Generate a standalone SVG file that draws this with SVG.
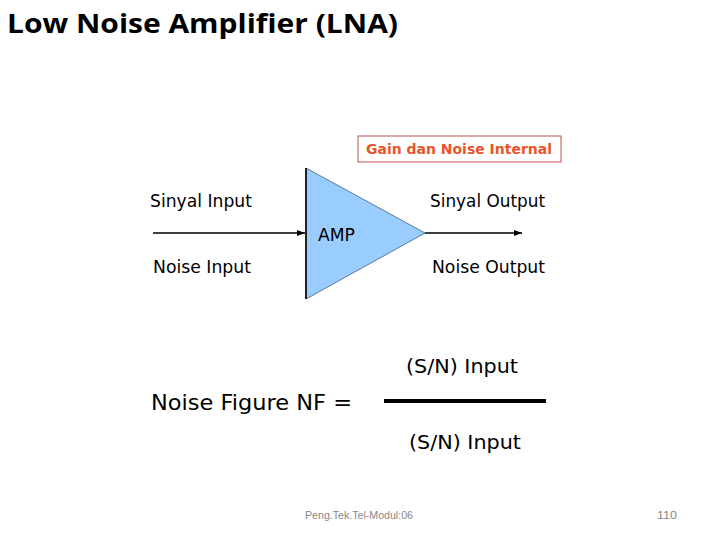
<svg xmlns="http://www.w3.org/2000/svg" width="720" height="540" viewBox="0 0 720 540">
<defs>
<style>
.t{font-family:"DejaVu Sans","Liberation Sans",sans-serif;fill:#000}
.f{font-family:"Liberation Sans",sans-serif;fill:#888;font-size:11px}
</style>
<marker id="ah" markerWidth="8" markerHeight="6" refX="8" refY="3" orient="auto" markerUnits="userSpaceOnUse">
<path d="M0,0 L8,3 L0,6 Z" fill="#000"/>
</marker>
</defs>
<rect width="720" height="540" fill="#fff"/>
<text x="7" y="33" font-family="'Open Sans','Liberation Sans',sans-serif" font-weight="bold" font-size="27" textLength="391" lengthAdjust="spacingAndGlyphs">Low Noise Amplifier (LNA)</text>
<g id="connectors">
<line x1="153" y1="233" x2="305" y2="233" stroke="#000" stroke-width="1.5" marker-end="url(#ah)"/>
<line x1="425" y1="233" x2="522" y2="233" stroke="#000" stroke-width="1.5" marker-end="url(#ah)"/>
</g>
<g id="amp">
<polygon points="306,168 425,233 306,299" fill="#99ccff" stroke="#5a7a9a" stroke-width="1"/>
<line x1="306" y1="168" x2="306" y2="299" stroke="#222" stroke-width="2"/>
<text class="t" x="318" y="241" font-size="17" textLength="37" lengthAdjust="spacingAndGlyphs">AMP</text>
</g>
<g id="gain">
<rect x="358" y="136" width="203" height="26" fill="#fff" stroke="#c0504d" stroke-width="1"/>
<text x="366" y="154" font-family="'DejaVu Sans',sans-serif" font-weight="bold" font-size="14" fill="#e8552a" textLength="186" lengthAdjust="spacingAndGlyphs">Gain dan Noise Internal</text>
</g>
<g id="labels">
<text class="t" x="150" y="207" font-size="17" textLength="102" lengthAdjust="spacingAndGlyphs">Sinyal Input</text>
<text class="t" x="430" y="207" font-size="17" textLength="115" lengthAdjust="spacingAndGlyphs">Sinyal Output</text>
<text class="t" x="153" y="273" font-size="17" textLength="98" lengthAdjust="spacingAndGlyphs">Noise Input</text>
<text class="t" x="432" y="273" font-size="17" textLength="113" lengthAdjust="spacingAndGlyphs">Noise Output</text>
</g>
<g id="formula">
<text class="t" x="406" y="373" font-size="19" textLength="112" lengthAdjust="spacingAndGlyphs">(S/N) Input</text>
<text class="t" x="151" y="410" font-size="21" textLength="201" lengthAdjust="spacingAndGlyphs">Noise Figure NF =</text>
<line x1="384" y1="401" x2="546" y2="401" stroke="#000" stroke-width="4"/>
<text class="t" x="409" y="449" font-size="19" textLength="112" lengthAdjust="spacingAndGlyphs">(S/N) Input</text>
</g>
<g id="footer">
<text class="f" x="305" y="519" textLength="108" lengthAdjust="spacingAndGlyphs">Peng.Tek.Tel-Modul:06</text>
<text class="f" x="657" y="519" textLength="20" lengthAdjust="spacingAndGlyphs">110</text>
</g>
</svg>
